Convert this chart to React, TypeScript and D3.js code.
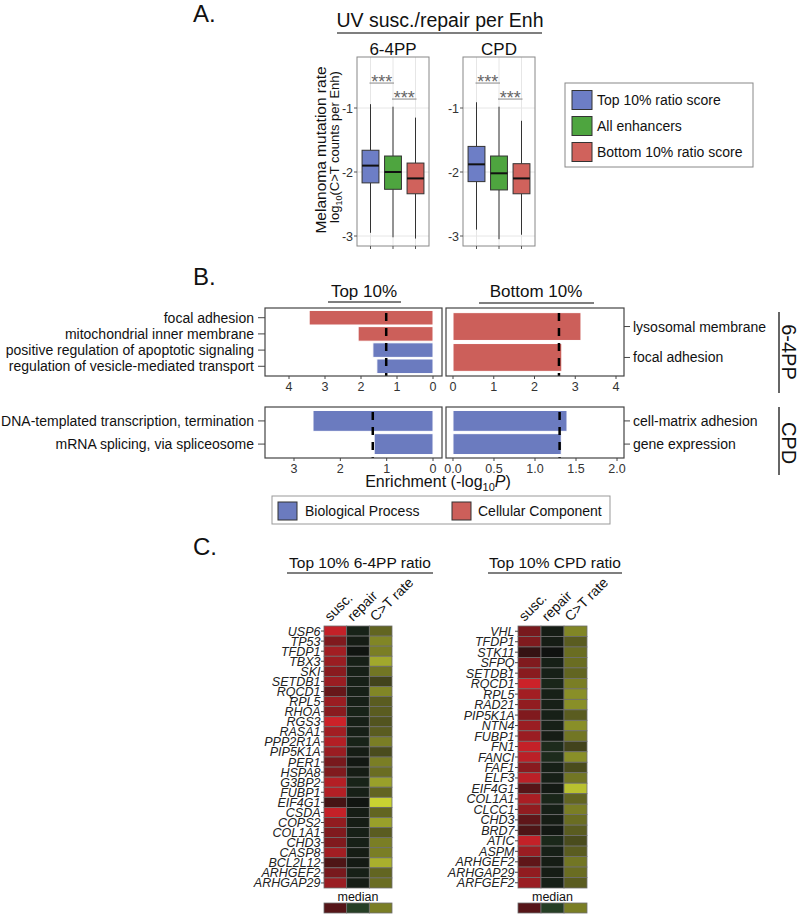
import React from 'react';
import * as d3 from 'd3';

const FONT = "'Liberation Sans', Arial, Helvetica, sans-serif";
const NARROW = "'Liberation Sans Narrow', 'Liberation Sans', Arial, sans-serif";

// ---------- Panel A data ----------
const groups = ['Top 10% ratio score', 'All enhancers', 'Bottom 10% ratio score'];
const groupColors = ['#6d7ec6', '#4ea53f', '#d0625c'];
const facets = ['6-4PP', 'CPD'];
// [whisker low, Q1, median, Q3, whisker high]
const box64 = [
  [-2.95, -2.17, -1.9, -1.66, -0.94],
  [-3.02, -2.27, -2.0, -1.75, -0.98],
  [-3.04, -2.34, -2.1, -1.86, -1.15],
];
const boxCPD = [
  [-2.9, -2.15, -1.88, -1.6, -0.91],
  [-3.05, -2.28, -2.02, -1.75, -0.98],
  [-2.98, -2.34, -2.1, -1.87, -1.2],
];
const yTicksA = [-1, -2, -3];
// [from group, to group, y]
const sigBrackets = [
  [0, 1, -0.61],
  [1, 2, -0.86],
];

// ---------- Panel B data ----------
const BLUE = '#6b7bbf';
const RED = '#cc5f5a';
const top64Terms = ['focal adhesion', 'mitochondrial inner membrane', 'positive regulation of apoptotic signaling', 'regulation of vesicle-mediated transport'];
const top64Values = [3.44, 2.08, 1.67, 1.56];
const top64Types = ['CC', 'CC', 'BP', 'BP'];
const bot64Terms = ['lysosomal membrane', 'focal adhesion'];
const bot64Values = [3.14, 2.67];
const bot64Types = ['CC', 'CC'];
const topCPDTerms = ['DNA-templated transcription, termination', 'mRNA splicing, via spliceosome'];
const topCPDValues = [2.59, 1.27];
const topCPDTypes = ['BP', 'BP'];
const botCPDTerms = ['cell-matrix adhesion', 'gene expression'];
const botCPDValues = [1.39, 1.32];
const botCPDTypes = ['BP', 'BP'];
const thresholds = { top64: 1.3, bot64: 2.6, topCPD: 1.3, botCPD: 1.3 };
const ticksTop64 = [0, 1, 2, 3, 4];
const ticksBot64 = [0, 1, 2, 3, 4];
const ticksTopCPD = [0, 1, 2, 3];
const ticksBotCPD = [0, 0.5, 1.0, 1.5, 2.0];

// ---------- Panel C data ----------
const heatCols = ['susc.', 'repair', 'C>T rate'];
const genes64 = ['USP6', 'TP53', 'TFDP1', 'TBX3', 'SKI', 'SETDB1', 'RQCD1', 'RPL5', 'RHOA', 'RGS3', 'RASA1', 'PPP2R1A', 'PIP5K1A', 'PER1', 'HSPA8', 'G3BP2', 'FUBP1', 'EIF4G1', 'CSDA', 'COPS2', 'COL1A1', 'CHD3', 'CASP8', 'BCL2L12', 'ARHGEF2', 'ARHGAP29'];
const susc64 = [0.95, 0.55, 0.75, 0.7, 0.6, 0.7, 0.4, 0.7, 0.6, 1.0, 0.75, 0.85, 0.7, 0.5, 0.55, 0.85, 0.85, 0.2, 0.95, 0.65, 0.55, 0.55, 0.75, 0.25, 0.5, 0.7];
const repair64 = [0.3, 0.2, 0.05, 0.25, 0.25, 0.25, 0.25, 0.25, 0.3, 0.25, 0.25, 0.3, 0.2, 0.1, 0.2, 0.3, 0.25, 0.05, 0.2, 0.2, 0.25, 0.25, 0.2, 0.15, 0.25, 0.2];
const ct64 = [0.35, 0.55, 0.5, 0.75, 0.45, 0.15, 0.55, 0.3, 0.3, 0.25, 0.3, 0.5, 0.2, 0.5, 0.4, 0.7, 0.35, 1.0, 0.35, 0.7, 0.3, 0.5, 0.5, 0.8, 0.35, 0.4];
const genesCPD = ['VHL', 'TFDP1', 'STK11', 'SFPQ', 'SETDB1', 'RQCD1', 'RPL5', 'RAD21', 'PIP5K1A', 'NTN4', 'FUBP1', 'FN1', 'FANCI', 'FAF1', 'ELF3', 'EIF4G1', 'COL1A1', 'CLCC1', 'CHD3', 'BRD7', 'ATIC', 'ASPM', 'ARHGEF2', 'ARHGAP29', 'ARFGEF2'];
const suscCPD = [0.5, 0.55, 0.1, 0.55, 0.6, 1.0, 0.75, 0.65, 0.55, 0.7, 0.7, 0.95, 0.9, 0.6, 0.9, 0.3, 0.8, 0.65, 0.35, 0.25, 0.95, 0.7, 0.35, 0.65, 0.7];
const repairCPD = [0.2, 0.2, 0.0, 0.25, 0.25, 0.35, 0.25, 0.25, 0.25, 0.25, 0.2, 0.45, 0.45, 0.25, 0.25, 0.15, 0.35, 0.25, 0.2, 0.1, 0.4, 0.25, 0.2, 0.2, 0.25];
const ctCPD = [0.55, 0.3, 0.4, 0.4, 0.35, 0.5, 0.6, 0.6, 0.3, 0.6, 0.45, 0.15, 0.6, 0.2, 0.45, 0.9, 0.35, 0.5, 0.4, 0.3, 0.2, 0.3, 0.45, 0.4, 0.3];
const medianLevels = [0.3, 0.8, 0.5];

const suscColor = d3.interpolateRgb('#241010', '#cc2229');
const repairColor = d3.interpolateRgb('#101210', '#2c4a2a');
const ctColor = d3.interpolateRgb('#2a2a18', '#c9d232');
const colColor = [suscColor, repairColor, ctColor];

// ---------- Panel A ----------
function PanelA() {
  const yA = d3.scaleLinear().domain([-3.156, -0.203]).range([246, 57]);
  const facetX = [[357, 429], [463, 535]];
  return (
    <g>
      <text x={193} y={22} fontSize={24} fontFamily={FONT} fill="#111">A.</text>
      <text x={440} y={27} fontSize={19.5} textAnchor="middle" fontFamily={FONT} fill="#111">UV susc./repair per Enh</text>
      <line x1={337} x2={542} y1={33} y2={33} stroke="#555" strokeWidth={1.5} />
      {facets.map((f, fi) => {
        const [xa, xb] = facetX[fi];
        const xs = d3.scaleBand().domain(groups).range([xa, xb]).paddingInner(0.25).paddingOuter(0.225);
        const data = fi === 0 ? box64 : boxCPD;
        const cx = (g: string) => (xs(g) as number) + xs.bandwidth() / 2;
        return (
          <g key={f}>
            <text x={(xa + xb) / 2} y={55} fontSize={17} textAnchor="middle" fontFamily={FONT} fill="#111">{f}</text>
            <rect x={xa} y={57} width={xb - xa} height={189} fill="white" />
            {yTicksA.map((t) => (
              <line key={t} x1={xa} x2={xb} y1={yA(t)} y2={yA(t)} stroke="#e6e6e6" strokeWidth={1} />
            ))}
            {groups.map((g) => (
              <line key={g} x1={cx(g)} x2={cx(g)} y1={57} y2={246} stroke="#e6e6e6" strokeWidth={1} />
            ))}
            {groups.map((g, gi) => {
              const [lo, q1, med, q3, hi] = data[gi];
              const x0 = xs(g) as number;
              return (
                <g key={g}>
                  <line x1={cx(g)} x2={cx(g)} y1={yA(hi)} y2={yA(q3)} stroke="#333" strokeWidth={1} />
                  <line x1={cx(g)} x2={cx(g)} y1={yA(q1)} y2={yA(lo)} stroke="#333" strokeWidth={1} />
                  <rect x={x0} y={yA(q3)} width={xs.bandwidth()} height={yA(q1) - yA(q3)} fill={groupColors[gi]} stroke="#333" strokeWidth={1} />
                  <line x1={x0} x2={x0 + xs.bandwidth()} y1={yA(med)} y2={yA(med)} stroke="#111" strokeWidth={2} />
                </g>
              );
            })}
            {sigBrackets.map(([a, b, yv], i) => {
              const xa1 = cx(groups[a as number]);
              const xb1 = cx(groups[b as number]);
              return (
                <g key={i}>
                  <line x1={xa1 - 1} x2={xb1 + 1} y1={yA(yv as number)} y2={yA(yv as number)} stroke="#888" strokeWidth={1} />
                  <text x={(xa1 + xb1) / 2} y={yA(yv as number) + 5} fontSize={18} textAnchor="middle" fontFamily={FONT} fill="#666">***</text>
                </g>
              );
            })}
            <rect x={xa} y={57} width={xb - xa} height={189} fill="none" stroke="#888" strokeWidth={1} />
            {yTicksA.map((t) => (
              <g key={t}>
                <line x1={xa - 3} x2={xa} y1={yA(t)} y2={yA(t)} stroke="#555" />
                <text x={xa - 4} y={yA(t) + 4.5} fontSize={12.5} textAnchor="end" fontFamily={NARROW} fill="#333">{t}</text>
              </g>
            ))}
            {groups.map((g) => (
              <line key={g} x1={cx(g)} x2={cx(g)} y1={246} y2={249} stroke="#555" />
            ))}
          </g>
        );
      })}
      <text transform="translate(326,150) rotate(-90)" fontSize={15.5} textAnchor="middle" fontFamily={FONT} fill="#111">Melanoma mutation rate</text>
      <text transform="translate(339,147) rotate(-90)" fontSize={13} textAnchor="middle" fontFamily={FONT} fill="#111">
        log<tspan fontSize={9} dy={3}>10</tspan><tspan dy={-3}>(C&gt;T counts per Enh)</tspan>
      </text>
      <rect x={565} y={83} width={188} height={84} fill="white" stroke="#888" strokeWidth={1} />
      {groups.map((g, i) => {
        const cy = 100 + i * 26;
        return (
          <g key={g}>
            <rect x={572} y={cy - 9.5} width={20} height={19} fill={groupColors[i]} stroke="#333" strokeWidth={1} />
            <text x={597} y={cy + 5} fontSize={14} fontFamily={FONT} fill="#111">{g}</text>
          </g>
        );
      })}
    </g>
  );
}

// ---------- Panel B ----------
type BarProps = {
  x0: number; x1: number; y0: number; y1: number; domain: number[];
  terms: string[]; values: number[]; types: string[]; threshold: number;
  ticks: number[]; fmt: (v: number) => string; side: 'left' | 'right';
};
function BarPanel(p: BarProps) {
  const x = d3.scaleLinear().domain(p.domain).range([p.x0, p.x1]);
  const y = d3.scaleBand().domain(p.terms).range([p.y0, p.y1]).paddingInner(0.1).paddingOuter(0.15);
  const zero = x(0);
  return (
    <g>
      <rect x={p.x0} y={p.y0} width={p.x1 - p.x0} height={p.y1 - p.y0} fill="white" />
      {p.terms.map((t, i) => {
        const xv = x(p.values[i]);
        return (
          <rect key={t} x={Math.min(xv, zero)} y={y(t)} width={Math.abs(xv - zero)} height={y.bandwidth()}
            fill={p.types[i] === 'CC' ? RED : BLUE} stroke="white" strokeWidth={1} />
        );
      })}
      <line x1={x(p.threshold)} x2={x(p.threshold)} y1={p.y0 + 5} y2={p.y1} stroke="#000" strokeWidth={2.5} strokeDasharray="8,7" />
      <rect x={p.x0} y={p.y0} width={p.x1 - p.x0} height={p.y1 - p.y0} fill="none" stroke="#444" strokeWidth={1.2} />
      {p.ticks.map((t) => (
        <g key={t}>
          <line x1={x(t)} x2={x(t)} y1={p.y1} y2={p.y1 + 3} stroke="#444" />
          <text x={x(t)} y={p.y1 + 15} fontSize={12.5} textAnchor="middle" fontFamily={NARROW} fill="#333">{p.fmt(t)}</text>
        </g>
      ))}
      {p.terms.map((t) => {
        const cy = (y(t) as number) + y.bandwidth() / 2;
        return p.side === 'left' ? (
          <g key={t}>
            <line x1={p.x0 - 7} x2={p.x0} y1={cy} y2={cy} stroke="#444" />
            <text x={p.x0 - 11} y={cy + 5} fontSize={14} textAnchor="end" fontFamily={FONT} fill="#111">{t}</text>
          </g>
        ) : (
          <g key={t}>
            <line x1={p.x1} x2={p.x1 + 6} y1={cy} y2={cy} stroke="#444" />
            <text x={p.x1 + 9} y={cy + 5} fontSize={14} textAnchor="start" fontFamily={FONT} fill="#111">{t}</text>
          </g>
        );
      })}
    </g>
  );
}

function PanelB() {
  const f0 = (v: number) => d3.format('d')(v);
  const f1 = (v: number) => d3.format('.1f')(v);
  return (
    <g>
      <text x={193} y={285} fontSize={24} fontFamily={FONT} fill="#111">B.</text>
      <text x={364} y={297} fontSize={17} textAnchor="middle" fontFamily={FONT} fill="#111">Top 10%</text>
      <line x1={328} x2={401} y1={302} y2={302} stroke="#555" strokeWidth={1.5} />
      <text x={536} y={297} fontSize={17} textAnchor="middle" fontFamily={FONT} fill="#111">Bottom 10%</text>
      <line x1={479} x2={594} y1={303} y2={303} stroke="#555" strokeWidth={1.5} />
      <BarPanel x0={265} x1={442} y0={308} y1={376} domain={[4.667, -0.25]} terms={top64Terms} values={top64Values} types={top64Types} threshold={thresholds.top64} ticks={ticksTop64} fmt={f0} side="left" />
      <BarPanel x0={446} x1={624} y0={308} y1={376} domain={[-0.172, 4.196]} terms={bot64Terms} values={bot64Values} types={bot64Types} threshold={thresholds.bot64} ticks={ticksBot64} fmt={f0} side="right" />
      <BarPanel x0={265} x1={442} y0={407} y1={458} domain={[3.626, -0.194]} terms={topCPDTerms} values={topCPDValues} types={topCPDTypes} threshold={thresholds.topCPD} ticks={ticksTopCPD} fmt={f0} side="left" />
      <BarPanel x0={446} x1={624} y0={407} y1={458} domain={[-0.085, 2.085]} terms={botCPDTerms} values={botCPDValues} types={botCPDTypes} threshold={thresholds.botCPD} ticks={ticksBotCPD} fmt={f1} side="right" />
      <text x={438} y={487} fontSize={16} textAnchor="middle" fontFamily={FONT} fill="#111">
        Enrichment (-log<tspan fontSize={11} dy={4}>10</tspan><tspan dy={-4} fontStyle="italic">P</tspan>)
      </text>
      <line x1={779} x2={779} y1={312} y2={393} stroke="#333" strokeWidth={1.5} />
      <text transform="translate(782,352) rotate(90)" fontSize={20} textAnchor="middle" fontFamily={FONT} fill="#111">6-4PP</text>
      <line x1={779} x2={779} y1={407} y2={475} stroke="#333" strokeWidth={1.5} />
      <text transform="translate(782,443) rotate(90)" fontSize={20} textAnchor="middle" fontFamily={FONT} fill="#111">CPD</text>
      <rect x={272} y={496} width={338} height={28} fill="white" stroke="#999" strokeWidth={1} />
      <rect x={278} y={502} width={19} height={18} fill={BLUE} stroke="#333" strokeWidth={1} />
      <text x={305} y={515.5} fontSize={14} fontFamily={FONT} fill="#111">Biological Process</text>
      <rect x={452} y={502} width={19} height={18} fill={RED} stroke="#333" strokeWidth={1} />
      <text x={478} y={515.5} fontSize={14} fontFamily={FONT} fill="#111">Cellular Component</text>
    </g>
  );
}

// ---------- Panel C ----------
type HeatProps = {
  x0: number; x1: number; y0: number; y1: number; genes: string[];
  susc: number[]; repair: number[]; ct: number[]; title: string; ux0: number; ux1: number;
};
function Heatmap(p: HeatProps) {
  const xs = d3.scaleBand().domain(heatCols).range([p.x0, p.x1]);
  const ys = d3.scaleBand().domain(p.genes).range([p.y0, p.y1]);
  const cols = [p.susc, p.repair, p.ct];
  const cx = (p.x0 + p.x1) / 2;
  return (
    <g>
      <text x={(p.ux0 + p.ux1) / 2} y={568} fontSize={15.5} textAnchor="middle" fontFamily={FONT} fill="#111">{p.title}</text>
      <line x1={p.ux0} x2={p.ux1} y1={573} y2={573} stroke="#555" strokeWidth={1.5} />
      {heatCols.map((c) => {
        const ccx = (xs(c) as number) + xs.bandwidth() / 2;
        return (
          <text key={c} transform={`translate(${ccx - 5},${p.y0 - 4}) rotate(-45)`} fontSize={14} fontFamily={FONT} fill="#111">{c}</text>
        );
      })}
      {p.genes.map((g, gi) => (
        <g key={g}>
          {heatCols.map((c, ci) => (
            <rect key={c} x={xs(c)} y={ys(g)} width={xs.bandwidth()} height={ys.bandwidth()}
              fill={colColor[ci](cols[ci][gi])} stroke="#6e6e6e" strokeWidth={0.8} />
          ))}
          <line x1={p.x0 - 3} x2={p.x0} y1={(ys(g) as number) + ys.bandwidth() / 2} y2={(ys(g) as number) + ys.bandwidth() / 2} stroke="#444" />
          <text x={p.x0 - 3.5} y={(ys(g) as number) + ys.bandwidth() / 2 + 4.5} fontSize={12.5} fontStyle="italic" textAnchor="end" fontFamily={FONT} fill="#222">{g}</text>
        </g>
      ))}
      <text x={cx} y={901} fontSize={12.5} textAnchor="middle" fontFamily={FONT} fill="#111">median</text>
      {heatCols.map((c, ci) => (
        <rect key={c} x={xs(c)} y={903} width={xs.bandwidth()} height={10} fill={colColor[ci](medianLevels[ci])} stroke="#6e6e6e" strokeWidth={0.8} />
      ))}
    </g>
  );
}

function PanelC() {
  return (
    <g>
      <text x={193} y={555} fontSize={24} fontFamily={FONT} fill="#111">C.</text>
      <Heatmap x0={324} x1={392} y0={626} y1={888} genes={genes64} susc={susc64} repair={repair64} ct={ct64} title="Top 10% 6-4PP ratio" ux0={287} ux1={433} />
      <Heatmap x0={518} x1={587} y0={626} y1={888} genes={genesCPD} susc={suscCPD} repair={repairCPD} ct={ctCPD} title="Top 10% CPD ratio" ux0={488} ux1={622} />
    </g>
  );
}

export default function App() {
  return (
    <div style={{ position: 'absolute', left: 0, top: 0 }}>
      <svg width={800} height={914} viewBox="0 0 800 914" style={{ display: 'block', background: 'white' }}>
        <rect x={0} y={0} width={800} height={914} fill="white" />
        <PanelA />
        <PanelB />
        <PanelC />
      </svg>
    </div>
  );
}
